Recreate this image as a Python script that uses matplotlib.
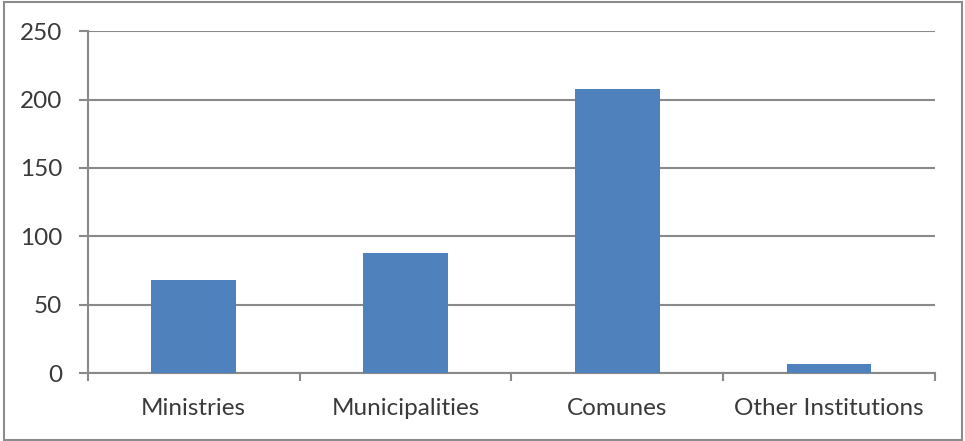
import numpy as np
import matplotlib.pyplot as plt
from matplotlib.patches import Rectangle
from matplotlib.ticker import FixedLocator, NullFormatter

categories = ["Ministries", "Municipalities", "Comunes", "Other Institutions"]
values = [68, 88, 208, 6.5]
y_ticks = [0, 50, 100, 150, 200, 250]

grey = "#898989"
plt.rcParams['font.family'] = ['Lato', 'DejaVu Sans']

fig = plt.figure(figsize=(9.65, 4.41), dpi=100)
ax = fig.add_axes([0.0909, 0.1535, 0.878, 0.776])

x = np.arange(len(categories))
ax.bar(x, values, width=0.4, color="#4F81BD", zorder=3)

ax.set_xlim(-0.5, len(categories) - 0.5)
ax.set_ylim(0, 250)
ax.set_yticks(y_ticks)
ax.yaxis.grid(True, color=grey, linewidth=1.5, zorder=0)

ax.set_xticks(x)
ax.set_xticklabels(categories)
ax.xaxis.set_minor_locator(FixedLocator(np.arange(-0.5, len(categories), 1.0)))
ax.xaxis.set_minor_formatter(NullFormatter())
ax.tick_params(axis="x", which="major", length=0, pad=18, labelsize=17.5, labelcolor="#3a3a3a")
ax.tick_params(axis="x", which="minor", length=6, width=1.5, color=grey, direction="out")
ax.tick_params(axis="y", length=6.5, width=1.5, color=grey, pad=12, labelsize=17.5, labelcolor="#3a3a3a")

for s in ["top", "right"]:
    ax.spines[s].set_visible(False)
for s in ["left", "bottom"]:
    ax.spines[s].set_color(grey)
    ax.spines[s].set_linewidth(1.5)

fig.patches.append(Rectangle((0.004, 0.003), 0.993, 0.993, transform=fig.transFigure,
                             fill=False, edgecolor="#8c8c8c", linewidth=1.5))

fig.savefig("out.png", dpi=100)
